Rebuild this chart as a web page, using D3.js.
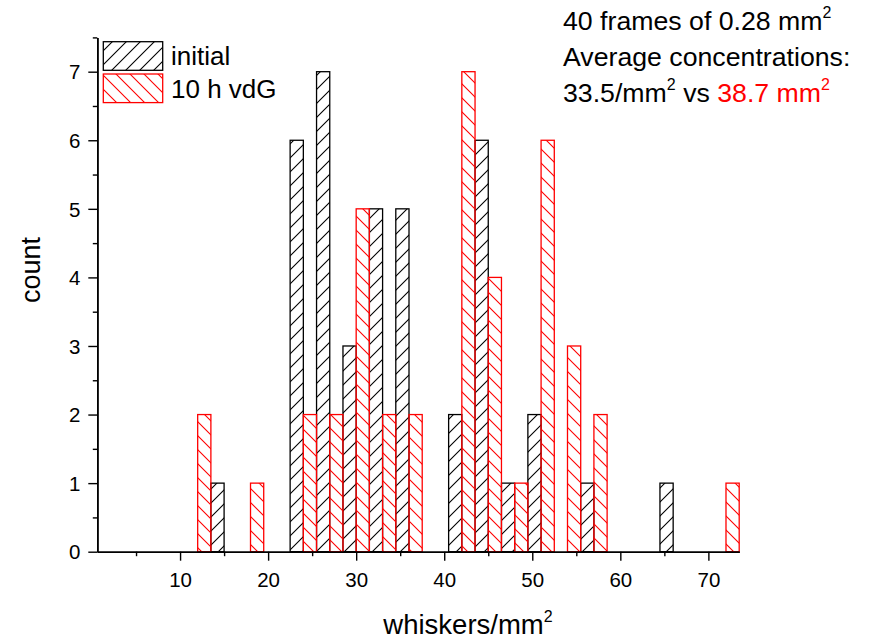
<!DOCTYPE html>
<html>
<head>
<meta charset="utf-8">
<script src="https://cdn.jsdelivr.net/npm/d3@7"></script>
<style>
  html, body { margin: 0; padding: 0; background: #fff; }
  svg { display: block; }
  text { font-family: "Liberation Sans", Arial, Helvetica, sans-serif; }
</style>
</head>
<body>
<svg id="chart" width="871" height="639"></svg>
<script>
// Histogram bins: left edge of each bin (whiskers/mm²) and count per bin
const binWidth = 1.5;
const initialStarts = [13.5, 22.5, 25.5, 28.5, 31.5, 34.5, 40.5, 43.5, 46.5, 49.5, 55.5, 64.5];
const initialCounts = [1, 6, 7, 3, 5, 5, 2, 6, 1, 2, 1, 1];
const vdgStarts = [12, 18, 24, 27, 30, 33, 36, 42, 45, 48, 51, 54, 57, 72];
const vdgCounts = [2, 1, 2, 2, 5, 2, 2, 7, 4, 1, 6, 3, 2, 1];

const seriesNames = ["initial", "10 h vdG"];
const xMajorTicks = [10, 20, 30, 40, 50, 60, 70];
const xMinorTicks = [5, 15, 25, 35, 45, 55, 65];
const yMajorTicks = [0, 1, 2, 3, 4, 5, 6, 7];
const yMinorTicks = [0.5, 1.5, 2.5, 3.5, 4.5, 5.5, 6.5, 7.5];

const svg = d3.select("#chart");
const RED = "#ff0000";

const x = d3.scaleLinear().domain([0.6, 73.5]).range([97.3, 739.2]);
const y = d3.scaleLinear().domain([0, 7.5]).range([551.7, 37.4]);

// hatch patterns
const defs = svg.append("defs");
function hatch(id, color, forward) {
  const p = defs.append("pattern")
    .attr("id", id)
    .attr("patternUnits", "userSpaceOnUse")
    .attr("width", 14).attr("height", 14);
  if (forward) {
    p.append("path").attr("d", "M-1,1 L1,-1 M0,14 L14,0 M13,15 L15,13");
  } else {
    p.append("path").attr("d", "M-1,13 L1,15 M0,0 L14,14 M13,-1 L15,1");
  }
  p.select("path").attr("stroke", color).attr("stroke-width", 1.1).attr("fill", "none");
}
hatch("hatchInitial", "#000", true);
hatch("hatchVdg", RED, false);

function drawBars(starts, counts, pattern, color) {
  const data = starts.map((s, i) => ({ s, c: counts[i] }));
  svg.append("g").selectAll("rect").data(data).join("rect")
    .attr("x", d => x(d.s))
    .attr("y", d => y(d.c))
    .attr("width", d => x(d.s + binWidth) - x(d.s))
    .attr("height", d => y(0) - y(d.c))
    .attr("fill", `url(#${pattern})`)
    .attr("stroke", color)
    .attr("stroke-width", 1.3);
}
drawBars(initialStarts, initialCounts, "hatchInitial", "#000");
drawBars(vdgStarts, vdgCounts, "hatchVdg", RED);

// axes
const fmt = d3.format("d");
const xAxis = svg.append("g").attr("transform", `translate(0,${y(0)})`)
  .call(d3.axisBottom(x).tickValues(xMajorTicks).tickFormat(fmt).tickSize(9).tickSizeOuter(0));
svg.append("g").attr("transform", `translate(0,${y(0)})`)
  .call(d3.axisBottom(x).tickValues(xMinorTicks).tickFormat("").tickSize(4.5).tickSizeOuter(0));
const yAxis = svg.append("g").attr("transform", `translate(${x.range()[0]},0)`)
  .call(d3.axisLeft(y).tickValues(yMajorTicks).tickFormat(fmt).tickSize(9).tickSizeOuter(0));
svg.append("g").attr("transform", `translate(${x.range()[0]},0)`)
  .call(d3.axisLeft(y).tickValues(yMinorTicks).tickFormat("").tickSize(4.5).tickSizeOuter(0));

svg.selectAll(".domain").attr("stroke", "#000").attr("stroke-width", 1.6);
svg.selectAll(".tick line").attr("stroke", "#000").attr("stroke-width", 1.4);
xAxis.selectAll(".tick text").attr("font-size", 20.5).attr("fill", "#000").attr("dy", null).attr("y", 35.5);
yAxis.selectAll(".tick text").attr("font-size", 20.5).attr("fill", "#000").attr("x", -17).attr("dy", "0.35em");

// axis titles
const xt = svg.append("text").attr("x", 468).attr("y", 634).attr("text-anchor", "middle")
  .attr("font-size", 27.5).attr("fill", "#000");
xt.append("tspan").text("whiskers/mm");
xt.append("tspan").text("2").attr("font-size", 16).attr("dy", -12);

svg.append("text").attr("transform", "translate(40,270) rotate(-90)")
  .attr("text-anchor", "middle").attr("font-size", 27).attr("fill", "#000").text("count");

// legend
const legend = [
  { name: seriesNames[0], pattern: "hatchInitial", color: "#000", y: 41.7 },
  { name: seriesNames[1], pattern: "hatchVdg", color: RED, y: 74 }
];
legend.forEach(d => {
  svg.append("rect").attr("x", 103.3).attr("y", d.y).attr("width", 59.4).attr("height", 28.6)
    .attr("fill", `url(#${d.pattern})`).attr("stroke", d.color).attr("stroke-width", 1.3);
  svg.append("text").attr("x", 171).attr("y", d.y + 23.5).attr("font-size", 26)
    .attr("fill", "#000").text(d.name);
});

// annotation
const ann = svg.append("g").attr("font-size", 26.7).attr("fill", "#000");
const l1 = ann.append("text").attr("x", 563).attr("y", 30);
l1.append("tspan").text("40 frames of 0.28 mm");
l1.append("tspan").text("2").attr("font-size", 16).attr("dy", -12);
ann.append("text").attr("x", 563).attr("y", 66).text("Average concentrations:");
const l3 = ann.append("text").attr("x", 563).attr("y", 102);
l3.append("tspan").text("33.5/mm");
l3.append("tspan").text("2").attr("font-size", 16).attr("dy", -12);
l3.append("tspan").text(" vs ").attr("dy", 12);
l3.append("tspan").text("38.7 mm").attr("fill", RED);
l3.append("tspan").text("2").attr("font-size", 16).attr("dy", -12).attr("fill", RED);
</script>
</body>
</html>
